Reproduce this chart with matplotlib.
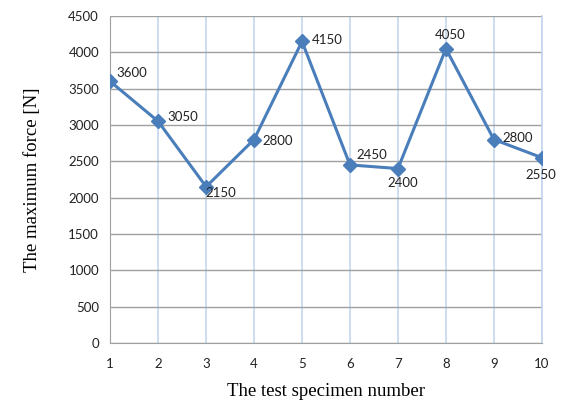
import matplotlib.pyplot as plt

specimens = [1, 2, 3, 4, 5, 6, 7, 8, 9, 10]
max_force = [3600, 3050, 2150, 2800, 4150, 2450, 2400, 4050, 2800, 2550]
# label offsets in pixels (dx, dy) and horizontal alignment
label_offsets = [(6, 8, 'left'), (9, 4, 'left'), (-1, -6, 'left'), (8, -1, 'left'),
                 (10, 1, 'left'), (6, 10, 'left'), (5, -14, 'center'), (4, 14, 'center'),
                 (9, 2, 'left'), (-1, -17, 'center')]

LINE = '#4a7ebb'
px = 72 / 100

fig = plt.figure(figsize=(5.65, 4.01), dpi=100)
ax = fig.add_axes([0.195, 0.145, 0.764, 0.815])

ax.plot(specimens, max_force, color=LINE, lw=2.2, marker='D', ms=7.5, zorder=3)
for x, y, (dx, dy, ha) in zip(specimens, max_force, label_offsets):
    ax.annotate(str(y), (x, y), xytext=(dx * px, dy * px), textcoords='offset points',
                ha=ha, va='center', fontsize=9.5, family='Lato', color='#222222')

ax.set_xlim(1, 10)
ax.set_ylim(0, 4500)
ax.set_xticks(specimens)
ax.set_yticks(range(0, 4501, 500))
ax.tick_params(length=0, labelsize=9.5, colors='#222222')
ax.tick_params(axis='y', pad=8)
ax.tick_params(axis='x', pad=11)
for lab in ax.get_xticklabels() + ax.get_yticklabels():
    lab.set_family('Lato')

ax.yaxis.grid(True, color='#a0a0a0', lw=1)
ax.xaxis.grid(True, color='#c5d5ee', lw=1.2)
ax.set_axisbelow(True)
ax.spines['top'].set_visible(False)
ax.spines['right'].set_color('#c5d5ee')
ax.spines['right'].set_linewidth(1.2)
ax.spines['left'].set_color('#a0a0a0')
ax.spines['bottom'].set_color('#a0a0a0')

ax.set_xlabel('The test specimen number', family='Liberation Serif', fontsize=13.5, labelpad=9)
ax.set_ylabel('The maximum force [N]', family='Liberation Serif', fontsize=13.5, labelpad=20)

fig.savefig('out.png', dpi=100)
